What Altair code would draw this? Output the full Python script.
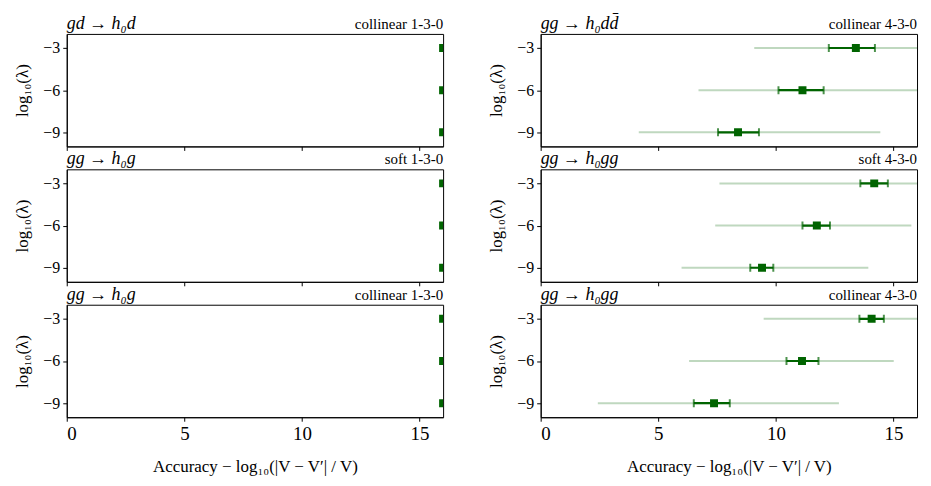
import altair as alt
import pandas as pd

FONT = "Liberation Serif"
DARK = "#006400"
W, H = 378, 113

lam = [-3, -6, -9]

# left column: all points sit at the accuracy limit
left_acc = [16.0, 16.0, 16.0]

# right column, row 1: gg -> h0 d dbar, collinear 4-3-0
r1_acc = [13.40, 11.13, 8.39]
r1_lo = [12.25, 10.11, 7.54]
r1_hi = [14.21, 12.03, 9.28]
r1_wlo = [9.08, 6.71, 4.17]
r1_whi = [17.70, 16.60, 14.44]

# right column, row 2: gg -> h0 gg, soft 4-3-0
r2_acc = [14.18, 11.74, 9.41]
r2_lo = [13.59, 11.13, 8.91]
r2_hi = [14.76, 12.30, 9.89]
r2_wlo = [7.60, 7.42, 5.99]
r2_whi = [17.50, 15.76, 13.93]

# right column, row 3: gg -> h0 gg, collinear 4-3-0
r3_acc = [14.07, 11.11, 7.37]
r3_lo = [13.55, 10.45, 6.51]
r3_hi = [14.59, 11.81, 8.04]
r3_wlo = [9.48, 6.31, 2.43]
r3_whi = [17.20, 15.01, 12.68]

left_titles = ["gd → h₀d", "gg → h₀g", "gg → h₀g"]
left_tags = ["collinear 1-3-0", "soft 1-3-0", "collinear 1-3-0"]
right_titles = ["gg → h₀dd̄", "gg → h₀gg", "gg → h₀gg"]
right_tags = ["collinear 4-3-0", "soft 4-3-0", "collinear 4-3-0"]

x_ticks = [0, 5, 10, 15]
y_ticks = [-3, -6, -9]
XT = "Accuracy − log₁₀(|V − V′| / V)"
YT = "log₁₀(λ)"


def panel(title, tag, bottom, acc, lo=None, hi=None, wlo=None, whi=None):
    d = {"lam": lam, "acc": acc}
    if lo is not None:
        d.update({"lo": lo, "hi": hi, "wlo": wlo, "whi": whi})
    df = pd.DataFrame(d)
    xs = alt.Scale(domain=[0, 16], nice=False, zero=False)
    ys = alt.Scale(domain=[-10, -2], nice=False, zero=False)
    xaxis = alt.Axis(values=x_ticks, labels=bottom, labelFontSize=19,
                     titleFontSize=17, titlePadding=16)
    yaxis = alt.Axis(values=y_ticks, labelFontSize=16, titleFontSize=17,
                     titlePadding=11)
    xt = XT if bottom else None

    def X(f):
        return alt.X(f, scale=xs, axis=xaxis, title=xt)

    base = alt.Chart(df).encode(y=alt.Y("lam:Q", scale=ys, axis=yaxis, title=YT))
    layers = []
    if lo is not None:
        layers.append(base.mark_rule(color=DARK, opacity=0.25, strokeWidth=2, clip=True)
                      .encode(x=X("wlo:Q"), x2="whi:Q"))
        layers.append(base.mark_rule(color=DARK, strokeWidth=2.2, clip=True)
                      .encode(x=X("lo:Q"), x2="hi:Q"))
        layers.append(base.transform_fold(["lo", "hi"], as_=["k", "v"])
                      .mark_tick(orient="vertical", color=DARK, thickness=2, size=8, clip=True)
                      .encode(x=X("v:Q")))
    layers.append(base.mark_square(size=64, color=DARK, opacity=1, filled=True, clip=True)
                  .encode(x=X("acc:Q")))
    tdf = pd.DataFrame({"t": [title], "g": [tag]})
    layers.append(alt.Chart(tdf).mark_text(align="left", baseline="alphabetic", font=FONT,
                                           fontSize=18, fontStyle="italic", color="black")
                  .encode(x=alt.value(0), y=alt.value(-5), text="t:N"))
    layers.append(alt.Chart(tdf).mark_text(align="right", baseline="alphabetic", font=FONT,
                                           fontSize=15, color="black")
                  .encode(x=alt.value(W), y=alt.value(-5), text="g:N"))
    return alt.layer(*layers).properties(width=W, height=H)


rights = [
    (r1_acc, r1_lo, r1_hi, r1_wlo, r1_whi),
    (r2_acc, r2_lo, r2_hi, r2_wlo, r2_whi),
    (r3_acc, r3_lo, r3_hi, r3_wlo, r3_whi),
]

panels = []
for i in range(3):
    bottom = i == 2
    panels.append(panel(left_titles[i], left_tags[i], bottom, left_acc))
    panels.append(panel(right_titles[i], right_tags[i], bottom, *rights[i]))

chart = alt.concat(*panels, columns=2, spacing={"row": 23, "column": 98},
                   bounds="flush").properties(
    padding={"left": 5, "top": 5, "right": 5, "bottom": 0}
).configure_view(stroke="black", strokeWidth=1).configure_axis(
    grid=False, domainColor="black", tickColor="black", tickSize=4,
    labelFont=FONT, titleFont=FONT, labelColor="black", titleColor="black",
    titleFontWeight="normal", labelPadding=3, domainWidth=1, tickWidth=1
)

chart.save("out.html", embed_options={"renderer": "svg", "actions": False})
